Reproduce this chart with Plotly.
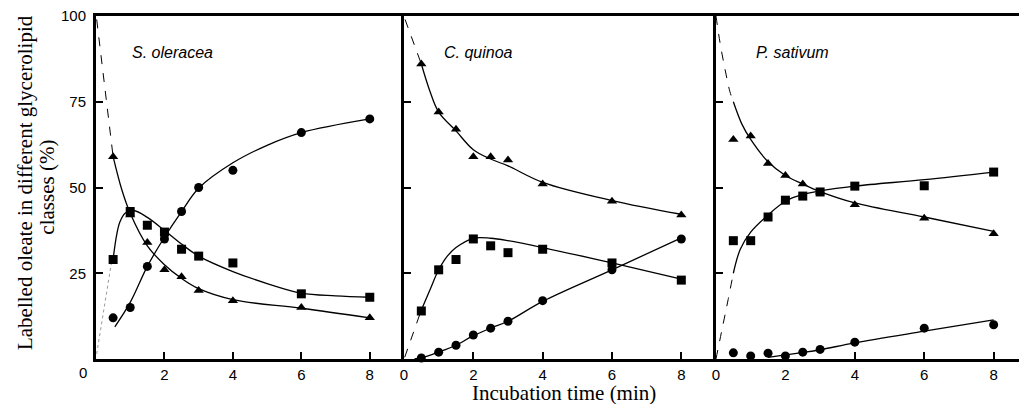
import plotly.graph_objects as go

# ---------------- data ----------------
time_min = [0.5, 1, 1.5, 2, 2.5, 3, 4, 6, 8]
panel_names = ["S. oleracea", "C. quinoa", "P. sativum"]

# S. oleracea
so_tri = [59, 42, 34, 26, 24, 20, 17, 15, 12]
so_sq = [29, 43, 39, 37, 32, 30, 28, 19, 18]
so_circ = [12, 15, 27, 35, 43, 50, 55, 66, 70]
# C. quinoa
cq_tri = [86, 72, 67, 59, 59, 58, 51, 46, 42]
cq_sq = [14, 26, 29, 35, 33, 31, 32, 28, 23]
cq_circ = [0.3, 2, 4, 7, 9, 11, 17, 26, 35]
# P. sativum
ps_tri = [64, 65, 57, 53.5, 51, 48.7, 45, 41, 36.5]
ps_sq = [34.5, 34.5, 41.4, 46.3, 47.5, 48.7, 50.4, 50.5, 54.5]
ps_circ = [1.8, 0.9, 1.7, 0.9, 2, 2.8, 4.9, 9, 10]

# hand-drawn fitted curves (solid)
so_tri_fit_x = [0.5, 0.75, 1, 1.5, 2, 2.5, 3, 4, 6, 8]
so_tri_fit_y = [59, 49.5, 42.5, 33, 27.5, 23.5, 20.5, 17.3, 14.8, 12]
so_sq_fit_x = [0.5, 0.6, 0.7, 0.85, 1.1, 1.5, 2, 2.5, 3, 4, 5, 6, 7, 8]
so_sq_fit_y = [29, 36, 40, 42.5, 43.3, 41.3, 37.5, 33.5, 30, 25.5, 22, 19.2, 18.4, 18]
so_circ_fit_x = [0.55, 1, 1.5, 2, 2.5, 3, 4, 5, 6, 8]
so_circ_fit_y = [9.4, 16.5, 27, 35.5, 43, 49.8, 57.2, 62.3, 66, 70]

cq_tri_fit_x = [0.5, 0.75, 1, 1.5, 2, 2.5, 3, 4, 6, 8]
cq_tri_fit_y = [86, 78, 72, 66.5, 61, 58.3, 56.3, 51.5, 46.2, 42.2]
cq_sq_fit_x = [0.5, 0.75, 1, 1.25, 1.5, 2, 2.5, 3, 4, 6, 8]
cq_sq_fit_y = [14.3, 20.2, 26, 30, 32.5, 35.2, 35.2, 34.5, 32.5, 28, 23.3]
cq_circ_fit_x = [0.3, 0.5, 1, 1.5, 2, 2.5, 3, 4, 6, 8]
cq_circ_fit_y = [0, 0.3, 2, 4, 6.8, 9, 11, 16.8, 26, 35.3]

ps_tri_fit_x = [0.5, 0.75, 1, 1.5, 2, 2.5, 3, 4, 6, 8]
ps_tri_fit_y = [75, 68.4, 64, 57.5, 53.5, 51, 48.8, 45.5, 41.4, 37.2]
ps_sq_fit_x = [0.5, 0.7, 1, 1.5, 2, 2.5, 3, 4, 6, 8]
ps_sq_fit_y = [25, 32, 37, 42, 46, 48, 49, 50.4, 52.3, 54.5]
ps_circ_fit_x = [1.5, 2, 2.5, 3, 4, 6, 8]
ps_circ_fit_y = [0.5, 1.2, 1.9, 2.7, 4.7, 8.1, 11.4]

# dashed extrapolations to time zero
so_tri_dash_x = [0.02, 0.5]
so_tri_dash_y = [99, 59]
so_sq_dash_x = [0.02, 0.45]
so_sq_dash_y = [1.5, 28]
cq_tri_dash_x = [0.03, 0.5]
cq_tri_dash_y = [99, 86]
cq_sq_dash_x = [0.02, 0.5]
cq_sq_dash_y = [0.5, 14.3]
ps_tri_dash_x = [0.0, 0.12, 0.26, 0.4, 0.5]
ps_tri_dash_y = [100, 92, 84.5, 78, 75]
ps_sq_dash_x = [0.0, 0.21, 0.35, 0.5]
ps_sq_dash_y = [0, 10.4, 17.3, 25]

y_ticks = [25, 50, 75, 100]
x_ticks = [0, 2, 4, 6, 8]

# ---------------- figure ----------------
fig = go.Figure()
INK = "black"

panels = [
    ("x", "y", so_tri, so_sq, so_circ,
     [(so_tri_fit_x, so_tri_fit_y), (so_sq_fit_x, so_sq_fit_y), (so_circ_fit_x, so_circ_fit_y)],
     [(so_tri_dash_x, so_tri_dash_y, "dash", INK), (so_sq_dash_x, so_sq_dash_y, "dot", "#999999")]),
    ("x2", "y2", cq_tri, cq_sq, cq_circ,
     [(cq_tri_fit_x, cq_tri_fit_y), (cq_sq_fit_x, cq_sq_fit_y), (cq_circ_fit_x, cq_circ_fit_y)],
     [(cq_tri_dash_x, cq_tri_dash_y, "dash", INK), (cq_sq_dash_x, cq_sq_dash_y, "dash", INK)]),
    ("x3", "y3", ps_tri, ps_sq, ps_circ,
     [(ps_tri_fit_x, ps_tri_fit_y), (ps_sq_fit_x, ps_sq_fit_y), (ps_circ_fit_x, ps_circ_fit_y)],
     [(ps_tri_dash_x, ps_tri_dash_y, "dash", INK), (ps_sq_dash_x, ps_sq_dash_y, "dash", INK)]),
]

for xa, ya, tri, sq, circ, fits, dashes in panels:
    for fx, fy in fits:
        fig.add_trace(go.Scatter(x=fx, y=fy, mode="lines", xaxis=xa, yaxis=ya,
                                 line=dict(color=INK, width=1.3, shape="spline"),
                                 hoverinfo="skip", showlegend=False))
    for dx, dy, dsh, col in dashes:
        fig.add_trace(go.Scatter(x=dx, y=dy, mode="lines", xaxis=xa, yaxis=ya,
                                 line=dict(color=col, width=1, dash=dsh, shape="spline"),
                                 hoverinfo="skip", showlegend=False))
    for vals, sym in [(tri, "triangle-up"), (sq, "square"), (circ, "circle")]:
        fig.add_trace(go.Scatter(x=time_min, y=vals, mode="markers", xaxis=xa, yaxis=ya,
                                 marker=dict(symbol=sym, size=9, color=INK, line=dict(width=0)),
                                 cliponaxis=False, showlegend=False))

tick_font = dict(family="Liberation Sans, Arial, sans-serif", size=15, color=INK)
common_x = dict(showline=True, linecolor=INK, linewidth=3, mirror=True, ticks="inside",
                ticklen=7, tickwidth=2, tickcolor=INK, showgrid=False, zeroline=False,
                tickfont=tick_font, fixedrange=True)
common_y = dict(range=[0, 100], showline=True, linecolor=INK, linewidth=3, ticks="inside",
                ticklen=7, tickwidth=2, tickcolor=INK, showgrid=False, zeroline=False,
                tickvals=y_ticks, tickfont=tick_font, fixedrange=True)

d1, d2 = 0.3337, 0.6717
fig.update_layout(
    width=1019, height=406,
    margin=dict(l=96, r=0, t=16, b=47),
    paper_bgcolor="white", plot_bgcolor="white",
    showlegend=False,
    xaxis=dict(domain=[0, d1], range=[0, 9], tickvals=x_ticks[1:], anchor="y", **common_x),
    xaxis2=dict(domain=[d1, d2], range=[0, 9], tickvals=x_ticks, anchor="y2", **common_x),
    xaxis3=dict(domain=[d2, 1], range=[0, 8.73], tickvals=x_ticks, anchor="y3", **common_x),
    yaxis=dict(anchor="x", ticklabelstandoff=4, **common_y),
    yaxis2=dict(anchor="x2", showticklabels=False, **common_y),
    yaxis3=dict(anchor="x3", showticklabels=False, **common_y),
)

title_font = dict(family="Liberation Sans, Arial, sans-serif", size=16, color=INK)
ann = []
for xr, yr, name, xpos in [("x", "y", panel_names[0], 0.99), ("x2", "y2", panel_names[1], 1.09),
                           ("x3", "y3", panel_names[2], 1.09)]:
    ann.append(dict(x=xpos, y=89.5, xref=xr, yref=yr, text="<i>" + name + "</i>",
                    showarrow=False, xanchor="left", yanchor="middle", font=title_font))

serif = dict(family="Liberation Serif, Times New Roman, serif", size=21, color=INK)
ann.append(dict(x=-0.0769, y=0.513, xref="paper", yref="paper",
                text="Labelled oleate in different glycerolipid", textangle=-90,
                showarrow=False, xanchor="center", yanchor="middle", font=serif))
ann.append(dict(x=-0.054, y=0.50, xref="paper", yref="paper",
                text="classes (%)", textangle=-90,
                showarrow=False, xanchor="center", yanchor="middle", font=serif))
ann.append(dict(x=0.507, y=-0.1356, xref="paper", yref="paper",
                text="Incubation time (min)", showarrow=False, height=22, valign="middle",
                xanchor="center", yanchor="bottom", font=serif))
ann.append(dict(x=-0.0141, y=-0.04, xref="paper", yref="paper", text="0",
                showarrow=False, xanchor="center", yanchor="middle", font=tick_font))
fig.update_layout(annotations=ann)

fig.write_html("out.html")
